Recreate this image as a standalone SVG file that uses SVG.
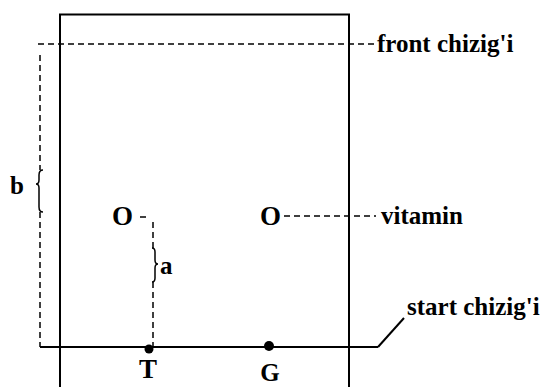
<svg xmlns="http://www.w3.org/2000/svg" width="543" height="387" viewBox="0 0 543 387">
<style>
text{font-family:"Liberation Serif","Times New Roman",serif;font-weight:bold;font-size:25px;fill:#000}
.big{font-size:27px}
.solid{stroke:#000;stroke-width:2;fill:none}
.dash{stroke:#000;stroke-width:1.5;fill:none;stroke-dasharray:6 4}
.brace{stroke:#000;stroke-width:1.5;fill:none}
</style>
<rect width="543" height="387" fill="#fff"/>
<g id="plate">
<path class="solid" d="M60,387 V14.5 H349 V387"/>
</g>
<g id="connectors">
<line class="dash" x1="38" y1="44" x2="376" y2="44"/>
<line class="dash" x1="40" y1="55" x2="40" y2="170"/>
<line class="dash" x1="40" y1="212" x2="40" y2="347"/>
<path class="brace" d="M43,170 Q39,170 39,175 L39,180 Q39,184 36,184 Q39,184 39,188 L39,207 Q39,212 43,212"/>
<line class="solid" x1="40" y1="347" x2="378" y2="347"/>
<line class="solid" x1="378" y1="347" x2="404" y2="318"/>
<line class="dash" x1="140" y1="217" x2="146" y2="217"/>
<line class="dash" x1="153" y1="222" x2="153" y2="248"/>
<line class="dash" x1="153" y1="282" x2="153" y2="347"/>
<path class="brace" d="M152,248 Q155,248 155,252 L155,260 Q155,264 158,264 Q155,264 155,268 L155,278 Q155,282 152,282"/>
<line class="dash" x1="284" y1="216" x2="376" y2="216" stroke-dasharray="4 3"/>
</g>
<g id="front-label"><text x="377" y="52">front chizig'i</text></g>
<g id="start-label"><text x="407" y="315">start chizig'i</text></g>
<g id="b-label"><text x="10" y="194">b</text></g>
<g id="a-label"><text x="160" y="274">a</text></g>
<g id="spot-left"><text class="big" x="112" y="225">O</text></g>
<g id="spot-right"><text class="big" x="260" y="225">O</text></g>
<g id="vitamin-label"><text x="381" y="224">vitamin</text></g>
<g id="T"><circle cx="149" cy="349" r="4.5"/><text class="big" x="148" y="378" text-anchor="middle">T</text></g>
<g id="G"><circle cx="269" cy="346" r="5"/><text x="270" y="381" text-anchor="middle" font-size="26">G</text></g>
</svg>
